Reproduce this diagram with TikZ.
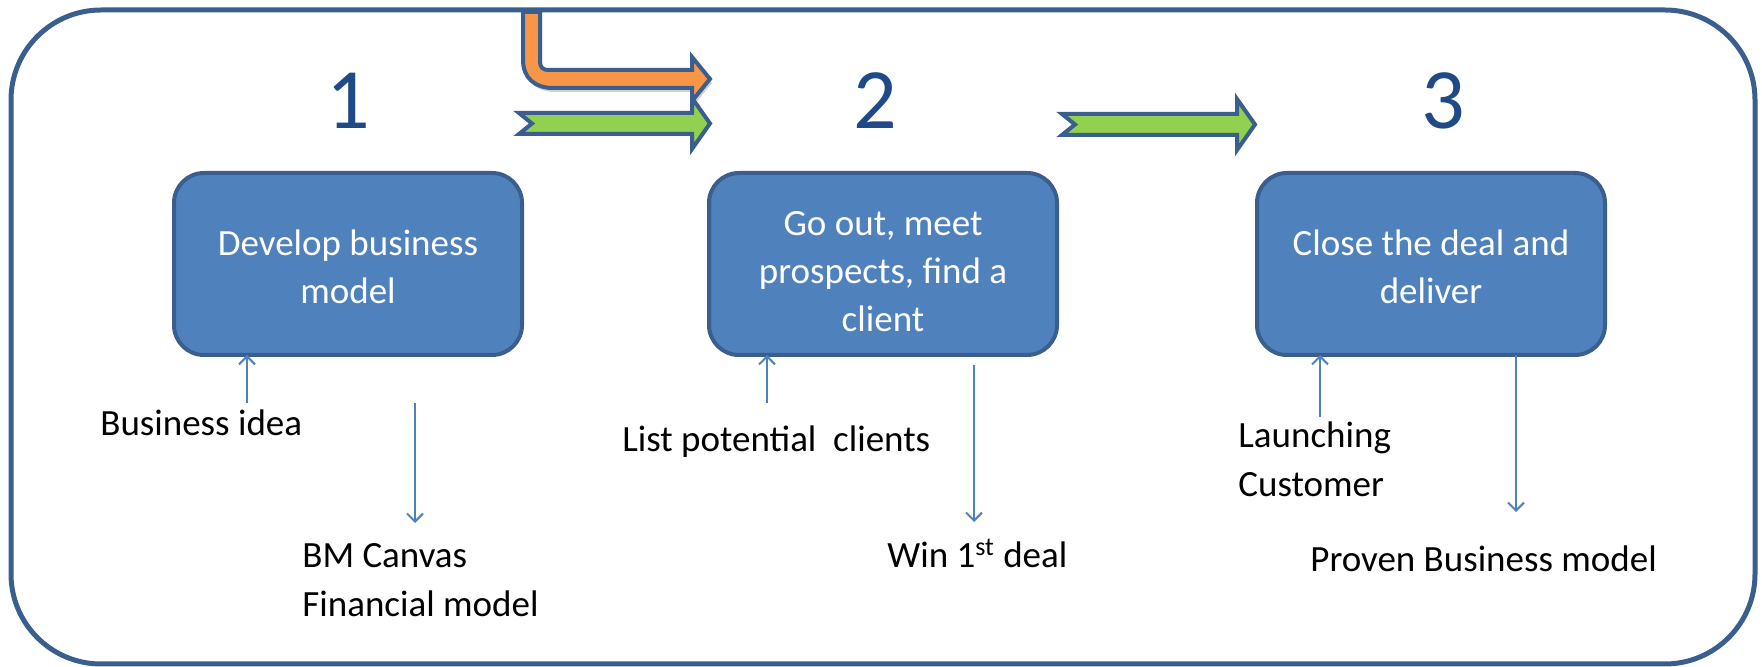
\documentclass[tikz,border=0pt]{standalone}
\usepackage{fontspec}
\setmainfont{Carlito}
\usetikzlibrary{arrows.meta,positioning,shadows}

\definecolor{stagefill}{HTML}{4F81BD}
\definecolor{edgeblue}{HTML}{3A5F8E}
\definecolor{numblue}{HTML}{1F4A85}
\definecolor{arrgreen}{HTML}{92D050}
\definecolor{arrorange}{HTML}{F79646}

\begin{document}
\begin{tikzpicture}[x=0.5pt,y=-0.5pt,
  stage/.style={draw=edgeblue,fill=stagefill,line width=2pt,rounded corners=15pt,
    minimum width=174pt,minimum height=91pt,inner sep=0pt,outer sep=0pt,
    text=white,align=center,font=\fontsize{18.5}{24}\selectfont},
  num/.style={text=numblue,inner sep=0pt,outer sep=0pt,font=\fontsize{43}{50}\selectfont},
  note/.style={inner sep=0pt,anchor=base west,align=left,font=\fontsize{18.5}{24.5}\selectfont},
  link/.style={draw=stagefill,line width=1pt,-{Straight Barb[length=4pt,width=8pt]}},
  chevron/.style={draw=edgeblue,line width=2pt,line join=miter}]

        \useasboundingbox (0,0) rectangle (1762,667);

        % feed-in arrows
        \path[chevron,fill=arrorange,drop shadow={shadow xshift=1pt,shadow yshift=-2pt,fill=black,opacity=0.18}]
          (523,12) -- (523,60) .. controls (523,78) and (535,88) .. (553,88) -- (692,88)
          -- (692,101) -- (710,79) -- (692,57) -- (692,70) -- (548,70)
          .. controls (543,70) and (540,67) .. (540,62) -- (540,12) -- cycle;
        \path[chevron,fill=arrgreen] (519,113) -- (692,113) -- (692,98) -- (710,123.5)
          -- (692,149) -- (692,134) -- (519,134) -- (532,123.5) -- cycle;
        \path[chevron,fill=arrgreen] (1062,114) -- (1237,114) -- (1237,99) -- (1255,124.5)
          -- (1237,150) -- (1237,135) -- (1062,135) -- (1075,124.5) -- cycle;

        \draw[edgeblue,line width=2.5pt,rounded corners=45pt] (11,10) rectangle (1755,664);

        % stages
        \node[stage] (box1) at (348,264) {\\[-8pt]Develop business\\model};
        \node[stage] (box2) [right=93.5pt of box1] {\\[-4pt]Go out, meet\\prospects, find a\\client};
        \node[stage] (box3) [right=100pt of box2] {\\[-8pt]Close the deal and\\deliver};

        \node[num] (n1) [above=22pt of box1] {1};
        \node[num] (n2) [above=22pt of box2,xshift=-4pt] {2};
        \node[num] (n3) [above=22pt of box3,xshift=6pt] {3};

        % inputs and outputs
        \node[note] (idea) at (100,436) {Business idea};
        \node[note] (canvas) at (302,617) {BM Canvas\\Financial model};
        \node[note] (list) at (622,452) {List potential~ clients};
        \node[note] (win) at (887,568) {Win 1\textsuperscript{st} deal};
        \node[note] (launch) at (1238,497) {Launching\\Customer};
        \node[note] (proven) at (1310,572) {Proven Business model};

        \coordinate (u1) at (247,403);
        \coordinate (d1a) at (415,403);
        \coordinate (d1b) at (415,523);
        \coordinate (u2) at (767,403);
        \coordinate (d2a) at (974,365);
        \coordinate (d2b) at (974,522);
        \coordinate (u3) at (1320,417);
        \coordinate (d3) at (1516,512);

        \draw[link] (u1) -- (u1 |- box1.south);
        \draw[link] (d1a) -- (d1b);
        \draw[link] (u2) -- (u2 |- box2.south);
        \draw[link] (d2a) -- (d2b);
        \draw[link] (u3) -- (u3 |- box3.south);
        \draw[link] (d3 |- box3.south) -- (d3);
      \end{tikzpicture}
\end{document}
